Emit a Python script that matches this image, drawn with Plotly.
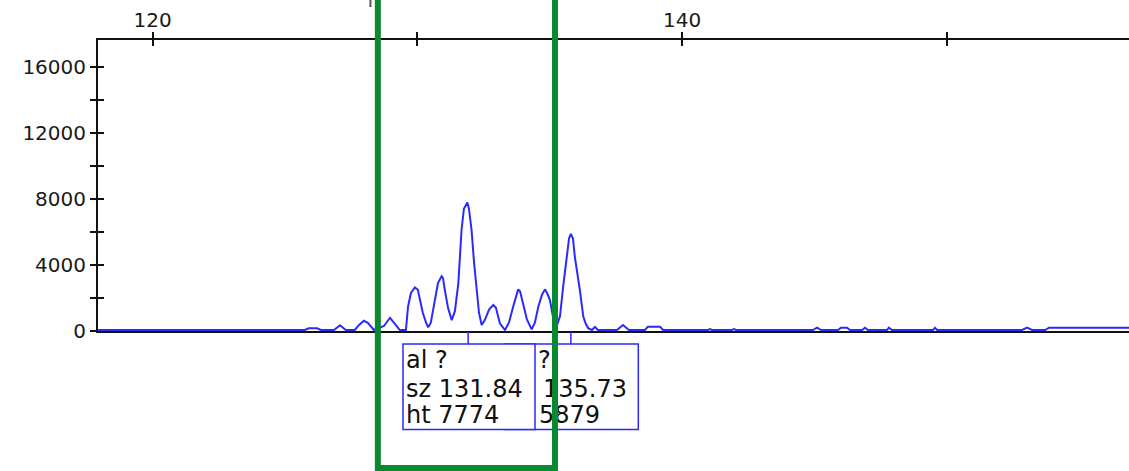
import plotly.graph_objects as go

# ---------------- data ----------------
size_bp = [117.94, 125.75, 125.90, 126.21, 126.36, 126.85, 127.08, 127.30, 127.64, 127.79,
           127.98, 128.13, 128.36, 128.74, 128.97, 129.19, 129.34, 129.57, 129.65, 129.76,
           129.91, 130.02, 130.10, 130.21, 130.33, 130.41, 130.51, 130.67, 130.78, 130.92,
           130.97, 131.04, 131.16, 131.30, 131.42, 131.55, 131.67, 131.76, 131.89, 131.95,
           132.05, 132.14, 132.24, 132.33, 132.43, 132.55, 132.71, 132.87, 132.97, 133.12,
           133.31, 133.46, 133.62, 133.81, 133.88, 134.00, 134.14, 134.32, 134.44, 134.57,
           134.71, 134.82, 134.90, 135.01, 135.12, 135.26, 135.39, 135.51, 135.64, 135.73,
           135.80, 135.88, 135.95, 136.07, 136.14, 136.27, 136.37, 136.46, 136.60, 136.71,
           136.82, 137.54, 137.77, 137.99, 138.60, 138.71, 139.17, 139.28, 140.98, 141.05,
           141.13, 141.88, 141.96, 142.04, 144.94, 145.10, 145.25, 145.89, 146.00, 146.23,
           146.34, 146.80, 146.91, 147.02, 147.74, 147.81, 147.93, 149.48, 149.55, 149.63,
           152.84, 153.03, 153.22, 153.71, 153.86, 156.88]
height_rfu = [60, 60, 160, 160, 60, 60, 350, 60, 60, 350,
              620, 500, 60, 300, 800, 400, 60, 60, 1470, 2300,
              2640, 2500, 1900, 1090, 500, 220, 500, 2070, 2900, 3320,
              3200, 2480, 1400, 660, 1200, 2900, 6100, 7400, 7774, 7400,
              6100, 4200, 2480, 1100, 360, 660, 1300, 1570, 1400, 460,
              60, 500, 1470, 2520, 2400, 1640, 700, 100, 500, 1470,
              2200, 2520, 2300, 1870, 900, 260, 900, 2700, 4490, 5600,
              5879, 5600, 4490, 3300, 2480, 860, 400, 160, 60, 250,
              60, 60, 360, 60, 60, 260, 260, 60, 60, 110,
              60, 60, 110, 60, 60, 200, 60, 60, 200, 200,
              60, 60, 200, 60, 60, 200, 60, 60, 200, 60,
              60, 200, 60, 60, 200, 200]

peak_pos = [131.92, 135.80]          # where the label connectors sit
peak_alleles = ["?", "?"]
peak_sizes = ["131.84", "135.73"]
peak_heights = ["7774", "5879"]

bin_range = [128.51, 135.20]          # green bin box
marker_bp = 128.23                    # small grey marker above the axis

x_major = [120, 140]
x_minor = [130, 150]
y_major = [0, 4000, 8000, 12000, 16000]
y_minor = [2000, 6000, 10000, 14000]

# ---------------- layout geometry ----------------
W, H = 1129, 471
ML, MR, MT, MB = 98, 0, 40, 140
PW, PH = W - ML - MR, H - MT - MB
XR = [117.94, 156.88]
YR = [0, 17615]


def PX(px):
    return (px - ML) / PW


def PY(py):
    return (H - MB - py) / PH


def bp_paper(bp):
    return (bp - XR[0]) / (XR[1] - XR[0])


BLUE = "#2a2aff"
GREEN = "#0a8a30"
BOXFONT = dict(family="DejaVu Sans", size=24, color="#111111")
TICKFONT = dict(family="DejaVu Sans", size=20, color="#1a1a1a")

fig = go.Figure()

fig.add_trace(go.Scatter(
    x=size_bp, y=height_rfu, mode="lines",
    line=dict(color=BLUE, width=2), hoverinfo="skip", showlegend=False,
))

shapes = []
# box 2
shapes.append(dict(type="rect", xref="paper", yref="paper", layer="above",
                   x0=PX(505), x1=PX(638.3), y0=PY(344), y1=PY(429.5),
                   line=dict(color=BLUE, width=1.5), fillcolor="white"))
# connectors
for p in peak_pos:
    shapes.append(dict(type="line", xref="paper", yref="paper", layer="above",
                       x0=bp_paper(p), x1=bp_paper(p), y0=PY(332), y1=PY(344),
                       line=dict(color=BLUE, width=1.5)))
# label 1 box (on top of label 2 box)
shapes.append(dict(type="rect", xref="paper", yref="paper", layer="above",
                   x0=PX(403), x1=PX(535), y0=PY(344), y1=PY(429.5),
                   line=dict(color=BLUE, width=1.5), fillcolor="white"))
# green bin box
shapes.append(dict(type="rect", xref="paper", yref="paper", layer="above",
                   x0=bp_paper(bin_range[0]), x1=bp_paper(bin_range[1]),
                   y0=PY(468), y1=PY(-20),
                   line=dict(color=GREEN, width=6), fillcolor="rgba(0,0,0,0)"))
# small grey marker on top
shapes.append(dict(type="line", xref="paper", yref="paper", layer="above",
                   x0=bp_paper(marker_bp), x1=bp_paper(marker_bp), y0=PY(0), y1=PY(7),
                   line=dict(color="#555555", width=2)))

line_py = [360, 389, 415]
annotations = []
# label 2: only the part not hidden behind label 1 is visible
box2_lines = [peak_alleles[1], peak_sizes[1], peak_heights[1]]
box2_px = [536, 541, 537]
for t, p, x in zip(box2_lines, line_py, box2_px):
    annotations.append(dict(text=t, xref="paper", yref="paper", x=PX(x), y=PY(p),
                            xanchor="left", yanchor="middle", showarrow=False,
                            font=BOXFONT, align="left"))
# label 1 text
box1_lines = ["al " + peak_alleles[0], "sz " + peak_sizes[0], "ht " + peak_heights[0]]
for t, p in zip(box1_lines, line_py):
    annotations.append(dict(text=t, xref="paper", yref="paper", x=PX(404), y=PY(p),
                            xanchor="left", yanchor="middle", showarrow=False,
                            font=BOXFONT, align="left"))
# green bin edge passing over label 2 text
gx = bp_paper(bin_range[1]) * PW + ML
annotations.append(dict(text=" ", xref="paper", yref="paper", x=PX(gx - 3), y=PY(340),
                        xanchor="left", yanchor="top", showarrow=False,
                        width=6, height=95, borderpad=0, borderwidth=0,
                        bgcolor=GREEN, font=dict(size=4)))

axis_line = dict(showline=True, linecolor="#111111", linewidth=2, showgrid=False,
                 zeroline=False, ticks="outside", ticklen=6, tickwidth=2,
                 tickcolor="#111111", layer="below traces")

fig.update_layout(
    width=W, height=H,
    margin=dict(l=ML, r=MR, t=MT, b=MB, pad=0),
    paper_bgcolor="white", plot_bgcolor="white",
    showlegend=False, hovermode=False,
    xaxis=dict(range=XR, side="top", mirror=True, tickvals=x_major,
               ticktext=[str(v) for v in x_major], tickfont=TICKFONT,
               ticklabelstandoff=-3,
               minor=dict(tickvals=x_minor, ticks="outside", ticklen=6,
                          tickwidth=2, tickcolor="#111111"),
               **axis_line),
    yaxis=dict(range=YR, tickvals=y_major, ticktext=[str(v) for v in y_major],
               tickfont=TICKFONT,
               minor=dict(tickvals=y_minor, ticks="outside", ticklen=6,
                          tickwidth=2, tickcolor="#111111"),
               **axis_line),
    xaxis2=dict(range=XR, overlaying="x", side="top", showline=False, showgrid=False,
                zeroline=False, tickvals=x_major + x_minor, ticks="inside", ticklen=6,
                tickwidth=2, tickcolor="#111111", showticklabels=False),
    yaxis2=dict(range=YR, overlaying="y", side="left", showline=False, showgrid=False,
                zeroline=False, tickvals=y_major + y_minor, ticks="inside", ticklen=6,
                tickwidth=2, tickcolor="#111111", showticklabels=False),
    shapes=shapes, annotations=annotations,
)

fig.add_trace(go.Scatter(x=[None], y=[None], xaxis="x2", yaxis="y2",
                         showlegend=False, hoverinfo="skip"))

fig.write_html("out.html")
